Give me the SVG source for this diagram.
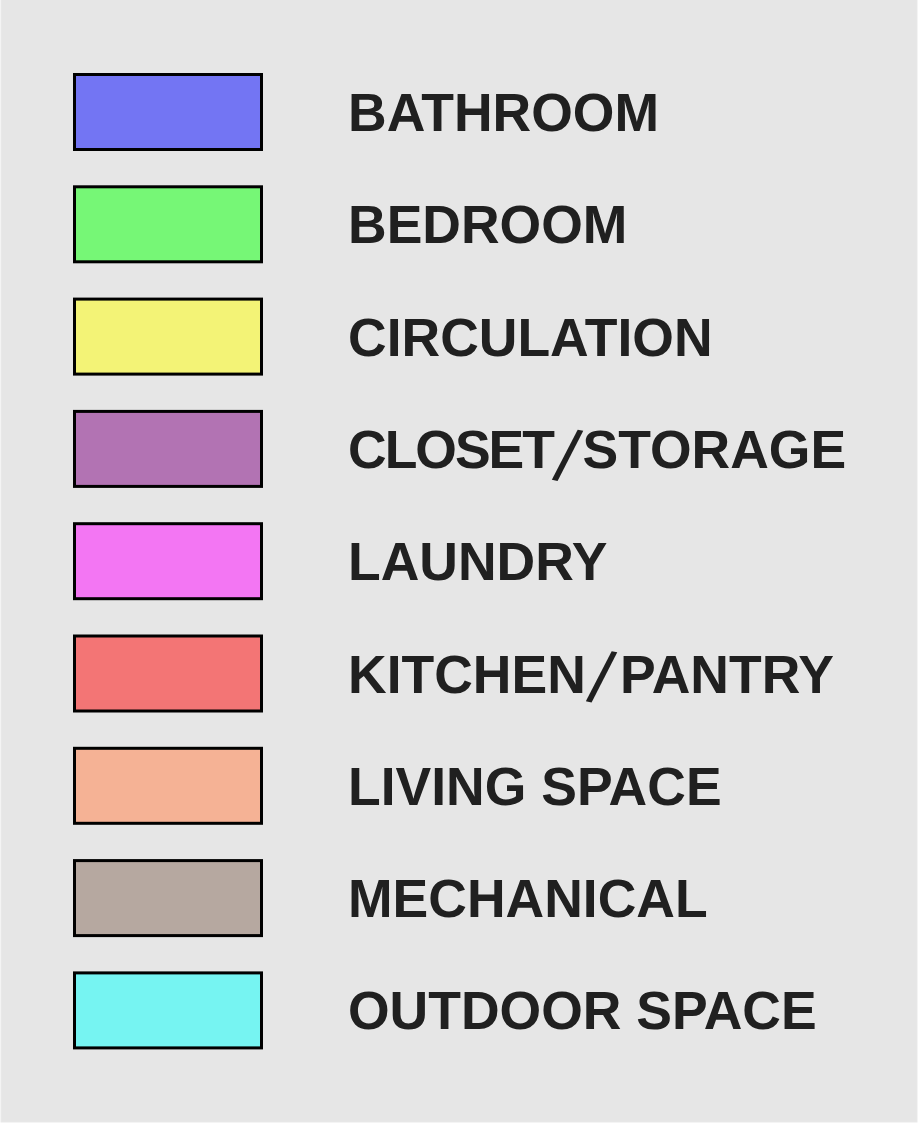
<svg xmlns="http://www.w3.org/2000/svg" width="918" height="1124" viewBox="0 0 918 1124">
<style>
.sw{stroke:#000;stroke-width:3}
.lb{font-family:"Liberation Sans",Arial,sans-serif;font-weight:bold;font-size:53.5px;fill:#202020}
.sl{font-weight:normal;font-size:74px}
</style>
<rect x="0" y="0" width="918" height="1124" fill="#ffffff"/>
<rect x="1" y="-1" width="916" height="1123" fill="#e6e6e6" stroke="#e9e9e9" stroke-width="1"/>
<g id="bathroom"><rect class="sw" x="74.5" y="74.5" width="187" height="75" fill="#7375f3"/><text class="lb" x="348" y="131">BATHROOM</text></g>
<g id="bedroom"><rect class="sw" x="74.5" y="186.8" width="187" height="75" fill="#76f776"/><text class="lb" x="348" y="243.3">BEDROOM</text></g>
<g id="circulation"><rect class="sw" x="74.5" y="299.1" width="187" height="75" fill="#f3f376"/><text class="lb" x="348" y="355.6">CIRCULATION</text></g>
<g id="closet"><rect class="sw" x="74.5" y="411.4" width="187" height="75" fill="#b273b3"/><text class="lb" x="348" y="467.9"><tspan letter-spacing="-2">CLOSET</tspan><tspan class="sl" x="552" dy="11" rotate="12">/</tspan><tspan x="582.5" dy="-11">STORAGE</tspan></text></g>
<g id="laundry"><rect class="sw" x="74.5" y="523.7" width="187" height="75" fill="#f376f3"/><text class="lb" x="348" y="580.2">LAUNDRY</text></g>
<g id="kitchen"><rect class="sw" x="74.5" y="636" width="187" height="75" fill="#f37575"/><text class="lb" x="348" y="692.5"><tspan>KITCHEN</tspan><tspan class="sl" x="586" dy="8" rotate="12">/</tspan><tspan x="620" dy="-8">PANTRY</tspan></text></g>
<g id="living"><rect class="sw" x="74.5" y="748.3" width="187" height="75" fill="#f5b295"/><text class="lb" x="348" y="804.8">LIVING SPACE</text></g>
<g id="mechanical"><rect class="sw" x="74.5" y="860.6" width="187" height="75" fill="#b6a8a0"/><text class="lb" x="348" y="917.1">MECHANICAL</text></g>
<g id="outdoor"><rect class="sw" x="74.5" y="972.9" width="187" height="75" fill="#76f4f2"/><text class="lb" x="348" y="1029.4">OUTDOOR SPACE</text></g>
<g id="connectors"></g>
</svg>
